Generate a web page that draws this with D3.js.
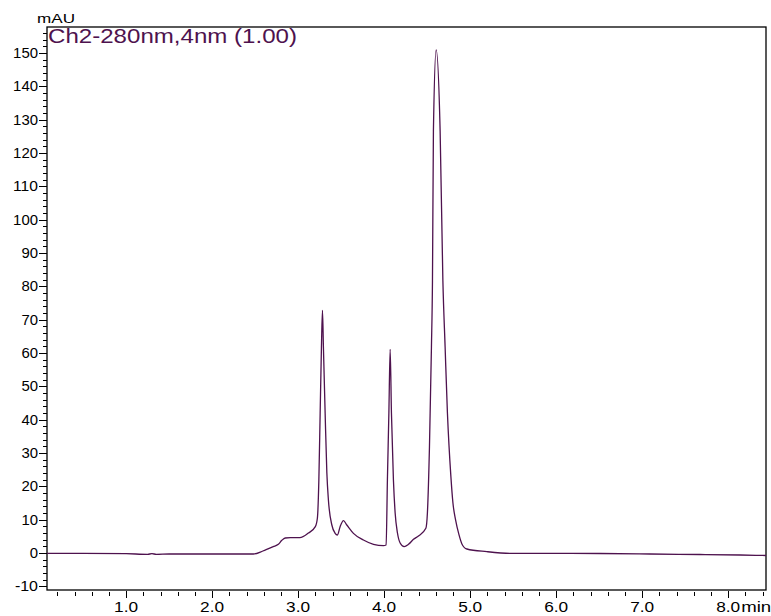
<!DOCTYPE html>
<meta charset="utf-8">
<style>
  body { margin: 0; background: #fff; }
  text { font-family: "Liberation Sans", Arial, sans-serif; }
  .frame { fill: none; stroke: #000; stroke-width: 1.3px; }
  .trace { fill: none; stroke: #4e124e; stroke-width: 1.3px; }
</style>
<svg width="771" height="616"></svg>
<script src="https://cdnjs.cloudflare.com/ajax/libs/d3/7.8.5/d3.min.js"></script>
<script>
  // retention time (min) and absorbance (mAU)
  var times = [0.08, 0.5, 1.0, 1.25, 1.3, 1.35, 1.5, 2.0, 2.3, 2.48, 2.59, 2.71, 2.77, 2.81, 2.85, 2.91, 3.02, 3.12, 3.20,
    3.224, 3.241, 3.256, 3.271, 3.283, 3.294, 3.314, 3.334, 3.352, 3.392, 3.43, 3.457, 3.488, 3.527, 3.566,
    3.643, 3.759, 3.876, 3.992, 4.023, 4.038, 4.055, 4.07, 4.085, 4.108, 4.128, 4.155, 4.186, 4.233, 4.283,
    4.341, 4.399, 4.485, 4.503, 4.527, 4.55, 4.562, 4.573, 4.605, 4.651, 4.683, 4.709, 4.736, 4.776, 4.80,
    4.83, 4.87, 4.903, 4.962, 5.194, 5.465, 5.93, 6.51, 7.09, 7.67, 8.14, 8.44];
  var mAU = [-0.1, -0.1, -0.2, -0.4, -0.2, -0.4, -0.3, -0.3, -0.3, -0.3, 0.6, 1.9, 2.6, 3.8, 4.5, 4.6, 4.6, 6.0, 7.9,
    10.5, 21.9, 41.9, 61.7, 72.8, 61.7, 41.9, 24.0, 15.9, 8.4, 5.9, 5.4, 7.9, 9.7, 8.4,
    5.9, 3.9, 2.6, 2.2, 2.4, 21.9, 41.9, 61.1, 41.9, 21.9, 12.0, 6.0, 3.0, 1.9, 2.6,
    4.1, 5.1, 7.4, 12.0, 31.8, 61.8, 81.7, 126.6, 150.9, 126.6, 81.7, 61.8, 41.9, 23.0, 15.0,
    10.0, 5.5, 2.8, 1.2, 0.4, -0.1, -0.1, -0.15, -0.3, -0.45, -0.6, -0.75];

  var xMajor = [1, 2, 3, 4, 5, 6, 7, 8];
  var yMajor = d3.range(-10, 151, 10);
  var chName = "Ch2-280nm,4nm (1.00)";

  var svg = d3.select("svg");
  var pLeft = 47, pRight = 766, pTop = 27, pBottom = 590;

  var x = d3.scaleLinear().domain([0.08, 8.44]).range([pLeft, pRight]);
  var y = d3.scaleLinear().domain([-11.1, 157.8]).range([pBottom, pTop]);

  var data = times.map(function(t, i) { return {t: t, v: mAU[i]}; });

  // stretch digits a bit the way the instrument software prints them
  function labelWidth(s) {
    var w = 0;
    for (var i = 0; i < s.length; i++) {
      var c = s[i];
      if (c == ".") w += 7.4;
      else if (c == "-") w += 6.5;
      else w += 8.3;
    }
    return w;
  }

  // frame
  svg.append("rect").attr("class", "frame")
    .attr("x", pLeft).attr("y", pTop).attr("width", pRight - pLeft).attr("height", pBottom - pTop);

  // y ticks
  var yMinor = d3.range(-10, 157, 2);
  svg.append("g").selectAll("line").data(yMinor).enter().append("line")
    .attr("x1", function(d) { return d % 10 == 0 ? pLeft - 8 : pLeft - 4; })
    .attr("x2", pLeft)
    .attr("y1", function(d) { return Math.round(y(d)) + 0.5; })
    .attr("y2", function(d) { return Math.round(y(d)) + 0.5; })
    .attr("stroke", "#000").attr("stroke-width", 1);
  svg.append("g").selectAll("text").data(yMajor).enter().append("text")
    .attr("x", 38).attr("y", function(d) { return y(d); })
    .attr("dy", "0.36em").attr("text-anchor", "end")
    .attr("font-size", "14px")
    .attr("textLength", function(d) { return labelWidth(String(d)); })
    .attr("lengthAdjust", "spacingAndGlyphs")
    .text(function(d) { return d; });

  // x ticks
  var xMinor = d3.range(1, 43).map(function(i) { return i * 0.2; });
  svg.append("g").selectAll("line").data(xMinor).enter().append("line")
    .attr("x1", function(d) { return Math.round(x(d)) + 0.5; })
    .attr("x2", function(d) { return Math.round(x(d)) + 0.5; })
    .attr("y1", function(d) { return Math.abs(d - Math.round(d)) < 1e-6 ? pBottom + 1 : pBottom + 2; })
    .attr("y2", function(d) { return Math.abs(d - Math.round(d)) < 1e-6 ? pBottom + 8 : pBottom + 6; })
    .attr("stroke", "#000").attr("stroke-width", 1);
  svg.append("g").selectAll("text").data(xMajor).enter().append("text")
    .attr("x", function(d) { return x(d); }).attr("y", 612)
    .attr("text-anchor", "middle").attr("font-size", "14px")
    .attr("textLength", 24).attr("lengthAdjust", "spacingAndGlyphs")
    .text(function(d) { return d.toFixed(1); });
  svg.append("text").attr("x", x(8) + 13).attr("y", 612)
    .attr("font-size", "14px").attr("textLength", 30).attr("lengthAdjust", "spacingAndGlyphs")
    .text("min");

  // unit + channel label
  svg.append("text").attr("x", 37).attr("y", 23)
    .attr("font-size", "12px").attr("textLength", 38).attr("lengthAdjust", "spacingAndGlyphs")
    .text("mAU");
  svg.append("text").attr("x", 48).attr("y", 43)
    .attr("font-size", "21px").attr("fill", "#4e124e")
    .attr("textLength", 249).attr("lengthAdjust", "spacingAndGlyphs")
    .text(chName);

  // trace
  var line = d3.line()
    .x(function(d) { return x(d.t); })
    .y(function(d) { return y(d.v); })
    .curve(d3.curveMonotoneX);
  svg.append("path").datum(data).attr("class", "trace").attr("d", line);
</script>
